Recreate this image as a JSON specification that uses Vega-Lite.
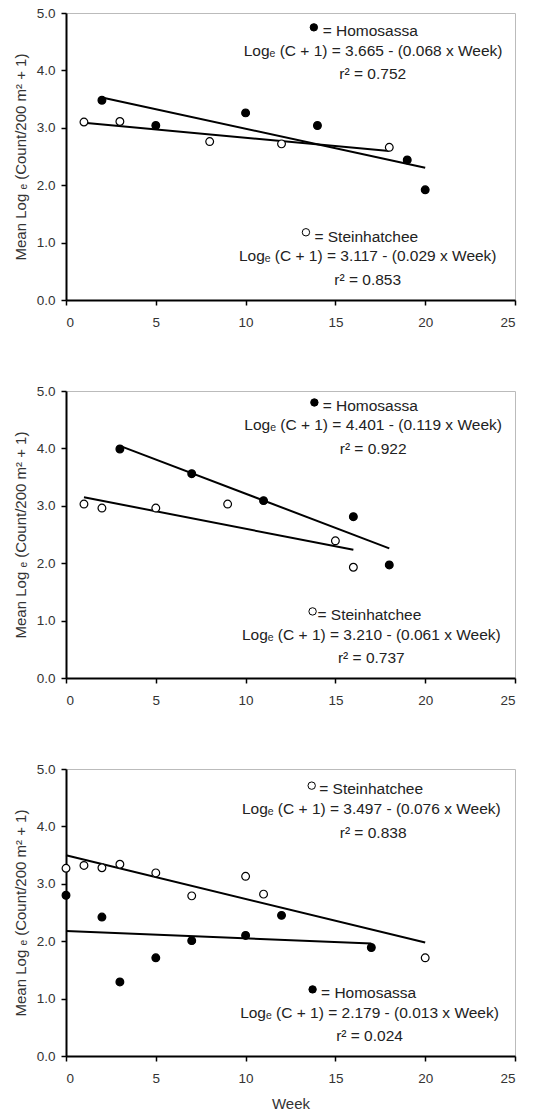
{
  "$schema": "https://vega.github.io/schema/vega-lite/v6.json",
  "padding": {"left": 12, "top": 5, "right": 5, "bottom": 0},
  "background": "white",
  "spacing": 91,
  "bounds": "flush",
  "datasets": {
    "points": [
      {"panel": 1, "site": "Homosassa", "week": 2, "value": 3.48},
      {"panel": 1, "site": "Homosassa", "week": 5, "value": 3.04},
      {"panel": 1, "site": "Homosassa", "week": 10, "value": 3.26},
      {"panel": 1, "site": "Homosassa", "week": 14, "value": 3.04},
      {"panel": 1, "site": "Homosassa", "week": 19, "value": 2.44},
      {"panel": 1, "site": "Homosassa", "week": 20, "value": 1.92},
      {"panel": 1, "site": "Steinhatchee", "week": 1, "value": 3.10},
      {"panel": 1, "site": "Steinhatchee", "week": 3, "value": 3.11},
      {"panel": 1, "site": "Steinhatchee", "week": 8, "value": 2.76},
      {"panel": 1, "site": "Steinhatchee", "week": 12, "value": 2.72},
      {"panel": 1, "site": "Steinhatchee", "week": 18, "value": 2.66},
      {"panel": 2, "site": "Homosassa", "week": 3, "value": 3.99},
      {"panel": 2, "site": "Homosassa", "week": 7, "value": 3.56},
      {"panel": 2, "site": "Homosassa", "week": 11, "value": 3.09},
      {"panel": 2, "site": "Homosassa", "week": 16, "value": 2.81},
      {"panel": 2, "site": "Homosassa", "week": 18, "value": 1.97},
      {"panel": 2, "site": "Steinhatchee", "week": 1, "value": 3.03},
      {"panel": 2, "site": "Steinhatchee", "week": 2, "value": 2.96},
      {"panel": 2, "site": "Steinhatchee", "week": 5, "value": 2.96},
      {"panel": 2, "site": "Steinhatchee", "week": 9, "value": 3.03},
      {"panel": 2, "site": "Steinhatchee", "week": 15, "value": 2.39},
      {"panel": 2, "site": "Steinhatchee", "week": 16, "value": 1.93},
      {"panel": 3, "site": "Steinhatchee", "week": 0, "value": 3.27},
      {"panel": 3, "site": "Steinhatchee", "week": 1, "value": 3.32},
      {"panel": 3, "site": "Steinhatchee", "week": 2, "value": 3.28},
      {"panel": 3, "site": "Steinhatchee", "week": 3, "value": 3.34},
      {"panel": 3, "site": "Steinhatchee", "week": 5, "value": 3.19},
      {"panel": 3, "site": "Steinhatchee", "week": 7, "value": 2.79},
      {"panel": 3, "site": "Steinhatchee", "week": 10, "value": 3.13},
      {"panel": 3, "site": "Steinhatchee", "week": 11, "value": 2.82},
      {"panel": 3, "site": "Steinhatchee", "week": 20, "value": 1.71},
      {"panel": 3, "site": "Homosassa", "week": 0, "value": 2.80},
      {"panel": 3, "site": "Homosassa", "week": 2, "value": 2.42},
      {"panel": 3, "site": "Homosassa", "week": 3, "value": 1.29},
      {"panel": 3, "site": "Homosassa", "week": 5, "value": 1.71},
      {"panel": 3, "site": "Homosassa", "week": 7, "value": 2.01},
      {"panel": 3, "site": "Homosassa", "week": 10, "value": 2.10},
      {"panel": 3, "site": "Homosassa", "week": 12, "value": 2.45},
      {"panel": 3, "site": "Homosassa", "week": 17, "value": 1.89}
    ],
    "fits": [
      {"panel": 1, "site": "Homosassa", "week": 2, "value": 3.529},
      {"panel": 1, "site": "Homosassa", "week": 20, "value": 2.305},
      {"panel": 1, "site": "Steinhatchee", "week": 1, "value": 3.088},
      {"panel": 1, "site": "Steinhatchee", "week": 18, "value": 2.595},
      {"panel": 2, "site": "Homosassa", "week": 3, "value": 4.044},
      {"panel": 2, "site": "Homosassa", "week": 18, "value": 2.259},
      {"panel": 2, "site": "Steinhatchee", "week": 1, "value": 3.149},
      {"panel": 2, "site": "Steinhatchee", "week": 16, "value": 2.234},
      {"panel": 3, "site": "Steinhatchee", "week": 0, "value": 3.497},
      {"panel": 3, "site": "Steinhatchee", "week": 20, "value": 1.977},
      {"panel": 3, "site": "Homosassa", "week": 0, "value": 2.179},
      {"panel": 3, "site": "Homosassa", "week": 17, "value": 1.958}
    ],
    "keys": [
      {"panel": 1, "site": "Homosassa", "week": 13.8, "value": 4.75},
      {"panel": 1, "site": "Steinhatchee", "week": 13.36, "value": 1.18},
      {"panel": 2, "site": "Homosassa", "week": 13.83, "value": 4.80},
      {"panel": 2, "site": "Steinhatchee", "week": 13.73, "value": 1.16},
      {"panel": 3, "site": "Steinhatchee", "week": 13.68, "value": 4.71},
      {"panel": 3, "site": "Homosassa", "week": 13.73, "value": 1.16}
    ],
    "keylabels": [
      {"panel": 1, "text": "= Homosassa", "week": 14.29, "value": 4.69},
      {"panel": 1, "text": "= Steinhatchee", "week": 13.83, "value": 1.10},
      {"panel": 2, "text": "= Homosassa", "week": 14.29, "value": 4.74},
      {"panel": 2, "text": "= Steinhatchee", "week": 14.0, "value": 1.10},
      {"panel": 3, "text": "= Steinhatchee", "week": 14.1, "value": 4.66},
      {"panel": 3, "text": "= Homosassa", "week": 14.2, "value": 1.10}
    ],
    "equations": [
      {"panel": 1, "text": "Logₑ (C + 1) = 3.665 - (0.068 x Week)", "week": 17.1, "value": 4.34},
      {"panel": 1, "text": "r² = 0.752", "week": 17.08, "value": 3.94},
      {"panel": 1, "text": "Logₑ (C + 1) = 3.117 - (0.029 x Week)", "week": 16.8, "value": 0.76},
      {"panel": 1, "text": "r² = 0.853", "week": 16.8, "value": 0.35},
      {"panel": 2, "text": "Logₑ (C + 1) = 4.401 - (0.119 x Week)", "week": 17.1, "value": 4.40},
      {"panel": 2, "text": "r² = 0.922", "week": 17.1, "value": 3.99},
      {"panel": 2, "text": "Logₑ (C + 1) = 3.210 - (0.061 x Week)", "week": 17.0, "value": 0.75},
      {"panel": 2, "text": "r² = 0.737", "week": 17.0, "value": 0.35},
      {"panel": 3, "text": "Logₑ (C + 1) = 3.497 - (0.076 x Week)", "week": 17.0, "value": 4.31},
      {"panel": 3, "text": "r² = 0.838", "week": 17.1, "value": 3.89},
      {"panel": 3, "text": "Logₑ (C + 1) = 2.179 - (0.013 x Week)", "week": 16.9, "value": 0.75},
      {"panel": 3, "text": "r² = 0.024", "week": 16.9, "value": 0.35}
    ]
  },
  "vconcat": [
    {
      "width": 449, "height": 287,
      "layer": [
        {"data": {"name": "fits"}, "transform": [{"filter": "datum.panel == 1"}], "mark": {"type": "line", "color": "black", "strokeWidth": 2},
         "encoding": {"x": {"field": "week", "type": "quantitative", "scale": {"domain": [0, 25], "nice": false}, "axis": {"values": [0, 5, 10, 15, 20, 25], "title": null, "labelPadding": 10}},
                      "y": {"field": "value", "type": "quantitative", "scale": {"domain": [0, 5], "nice": false}, "axis": {"values": [0, 1, 2, 3, 4, 5], "format": ".1f", "title": "Mean Log ₑ (Count/200 m² + 1)"}},
                      "detail": {"field": "site"}}},
        {"data": {"name": "points"}, "transform": [{"filter": "datum.panel == 1"}], "mark": {"type": "point", "filled": false, "stroke": "black", "strokeWidth": 1.2, "size": 60, "opacity": 1},
         "encoding": {"x": {"field": "week", "type": "quantitative"}, "y": {"field": "value", "type": "quantitative"},
                      "fill": {"field": "site", "type": "nominal", "scale": {"domain": ["Homosassa", "Steinhatchee"], "range": ["black", "white"]}, "legend": null}}},
        {"data": {"name": "keys"}, "transform": [{"filter": "datum.panel == 1"}], "mark": {"type": "point", "filled": false, "stroke": "black", "strokeWidth": 1, "size": 55, "opacity": 1},
         "encoding": {"x": {"field": "week", "type": "quantitative"}, "y": {"field": "value", "type": "quantitative"},
                      "fill": {"field": "site", "type": "nominal", "legend": null}}},
        {"data": {"name": "keylabels"}, "transform": [{"filter": "datum.panel == 1"}], "mark": {"type": "text", "align": "left", "baseline": "middle", "fontSize": 15.5, "color": "#222"},
         "encoding": {"x": {"field": "week", "type": "quantitative"}, "y": {"field": "value", "type": "quantitative"}, "text": {"field": "text"}}},
        {"data": {"name": "equations"}, "transform": [{"filter": "datum.panel == 1"}], "mark": {"type": "text", "align": "center", "baseline": "middle", "fontSize": 15.5, "color": "#222"},
         "encoding": {"x": {"field": "week", "type": "quantitative"}, "y": {"field": "value", "type": "quantitative"}, "text": {"field": "text"}}}
      ]
    },
    {
      "width": 449, "height": 287,
      "layer": [
        {"data": {"name": "fits"}, "transform": [{"filter": "datum.panel == 2"}], "mark": {"type": "line", "color": "black", "strokeWidth": 2},
         "encoding": {"x": {"field": "week", "type": "quantitative", "scale": {"domain": [0, 25], "nice": false}, "axis": {"values": [0, 5, 10, 15, 20, 25], "title": null, "labelPadding": 10}},
                      "y": {"field": "value", "type": "quantitative", "scale": {"domain": [0, 5], "nice": false}, "axis": {"values": [0, 1, 2, 3, 4, 5], "format": ".1f", "title": "Mean Log ₑ (Count/200 m² + 1)"}},
                      "detail": {"field": "site"}}},
        {"data": {"name": "points"}, "transform": [{"filter": "datum.panel == 2"}], "mark": {"type": "point", "filled": false, "stroke": "black", "strokeWidth": 1.2, "size": 60, "opacity": 1},
         "encoding": {"x": {"field": "week", "type": "quantitative"}, "y": {"field": "value", "type": "quantitative"},
                      "fill": {"field": "site", "type": "nominal", "scale": {"domain": ["Homosassa", "Steinhatchee"], "range": ["black", "white"]}, "legend": null}}},
        {"data": {"name": "keys"}, "transform": [{"filter": "datum.panel == 2"}], "mark": {"type": "point", "filled": false, "stroke": "black", "strokeWidth": 1, "size": 55, "opacity": 1},
         "encoding": {"x": {"field": "week", "type": "quantitative"}, "y": {"field": "value", "type": "quantitative"},
                      "fill": {"field": "site", "type": "nominal", "legend": null}}},
        {"data": {"name": "keylabels"}, "transform": [{"filter": "datum.panel == 2"}], "mark": {"type": "text", "align": "left", "baseline": "middle", "fontSize": 15.5, "color": "#222"},
         "encoding": {"x": {"field": "week", "type": "quantitative"}, "y": {"field": "value", "type": "quantitative"}, "text": {"field": "text"}}},
        {"data": {"name": "equations"}, "transform": [{"filter": "datum.panel == 2"}], "mark": {"type": "text", "align": "center", "baseline": "middle", "fontSize": 15.5, "color": "#222"},
         "encoding": {"x": {"field": "week", "type": "quantitative"}, "y": {"field": "value", "type": "quantitative"}, "text": {"field": "text"}}}
      ]
    },
    {
      "width": 449, "height": 287,
      "layer": [
        {"data": {"name": "fits"}, "transform": [{"filter": "datum.panel == 3"}], "mark": {"type": "line", "color": "black", "strokeWidth": 2},
         "encoding": {"x": {"field": "week", "type": "quantitative", "scale": {"domain": [0, 25], "nice": false}, "axis": {"values": [0, 5, 10, 15, 20, 25], "title": "Week", "labelPadding": 10, "titlePadding": 12}},
                      "y": {"field": "value", "type": "quantitative", "scale": {"domain": [0, 5], "nice": false}, "axis": {"values": [0, 1, 2, 3, 4, 5], "format": ".1f", "title": "Mean Log ₑ (Count/200 m² + 1)"}},
                      "detail": {"field": "site"}}},
        {"data": {"name": "points"}, "transform": [{"filter": "datum.panel == 3"}], "mark": {"type": "point", "filled": false, "stroke": "black", "strokeWidth": 1.2, "size": 60, "opacity": 1},
         "encoding": {"x": {"field": "week", "type": "quantitative"}, "y": {"field": "value", "type": "quantitative"},
                      "fill": {"field": "site", "type": "nominal", "scale": {"domain": ["Homosassa", "Steinhatchee"], "range": ["black", "white"]}, "legend": null}}},
        {"data": {"name": "keys"}, "transform": [{"filter": "datum.panel == 3"}], "mark": {"type": "point", "filled": false, "stroke": "black", "strokeWidth": 1, "size": 55, "opacity": 1},
         "encoding": {"x": {"field": "week", "type": "quantitative"}, "y": {"field": "value", "type": "quantitative"},
                      "fill": {"field": "site", "type": "nominal", "legend": null}}},
        {"data": {"name": "keylabels"}, "transform": [{"filter": "datum.panel == 3"}], "mark": {"type": "text", "align": "left", "baseline": "middle", "fontSize": 15.5, "color": "#222"},
         "encoding": {"x": {"field": "week", "type": "quantitative"}, "y": {"field": "value", "type": "quantitative"}, "text": {"field": "text"}}},
        {"data": {"name": "equations"}, "transform": [{"filter": "datum.panel == 3"}], "mark": {"type": "text", "align": "center", "baseline": "middle", "fontSize": 15.5, "color": "#222"},
         "encoding": {"x": {"field": "week", "type": "quantitative"}, "y": {"field": "value", "type": "quantitative"}, "text": {"field": "text"}}}
      ]
    }
  ],
  "config": {
    "font": "Liberation Sans",
    "view": {"stroke": "#bbbbbb", "strokeWidth": 1},
    "axis": {
      "grid": false,
      "domainColor": "black", "domainWidth": 2,
      "tickColor": "black", "tickWidth": 1.5, "tickSize": 5,
      "labelFontSize": 13.5, "labelColor": "#333", "labelPadding": 6,
      "titleFontSize": 15, "titleFontWeight": "normal", "titleColor": "#333", "titlePadding": 8
    },
    "concat": {"spacing": 91}
  }
}
